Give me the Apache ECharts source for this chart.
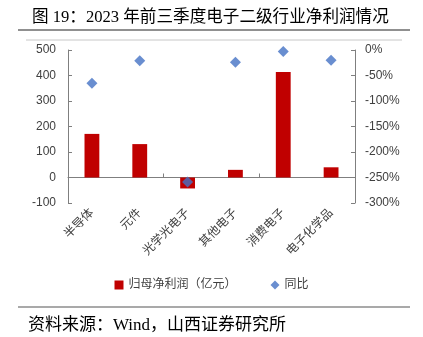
<!DOCTYPE html>
<html><head><meta charset="utf-8">
<script src="https://cdn.jsdelivr.net/npm/echarts@6/dist/echarts.min.js"></script>
<style>html,body{margin:0;padding:0;background:#fff}#c{width:423px;height:337px}</style>
</head><body><div id="c"></div>
<script>
const categories = ['半导体','元件','光学光电子','其他电子','消费电子','电子化学品'];
const profit = [171, 131, -43, 30, 414, 40];
const yoy = [-65, -21, -259, -24, -3, -20];
const leftTicks = {min:-100, max:500, interval:100};
const rightTicks = {min:-300, max:0, interval:50};
const titleText = '图 19：2023 年前三季度电子二级行业净利润情况';
const sourceText = '资料来源：Wind，山西证券研究所';

const chart = echarts.init(document.getElementById('c'), null, {renderer:'canvas'});
const axisCol = '#7f7f7f';
const labCol = '#404040';
const fontF = 'Liberation Sans, Arial, Noto Sans CJK SC, sans-serif';
chart.setOption({
  animation:false,
  title:{text:titleText, left:27, top:4,
    textStyle:{fontFamily:'Liberation Serif, Noto Sans CJK SC, serif', fontSize:16.6, fontWeight:'normal', color:'#000'}},
  graphic:[
    {type:'line', shape:{x1:18,y1:30,x2:410,y2:30}, style:{stroke:'#222', lineWidth:1.2}},
    {type:'line', shape:{x1:26,y1:40,x2:402,y2:40}, style:{stroke:'#c8c8c8', lineWidth:1}},
    {type:'line', shape:{x1:18,y1:307,x2:410,y2:307}, style:{stroke:'#555', lineWidth:1.2}},
    {type:'text', left:28, top:317, style:{text:sourceText, font:'17px Liberation Serif, Noto Sans CJK SC, serif', fill:'#000'}}
  ],
  legend:{bottom:41, left:'center', itemGap:34, itemWidth:9, itemHeight:9,
    textStyle:{fontFamily:fontF, fontSize:12, color:labCol},
    data:[{name:'归母净利润（亿元）', icon:'rect'},{name:'同比', icon:'diamond'}]},
  grid:{left:68, right:68, top:50, bottom:134},
  xAxis:[
    {type:'category', data:categories, position:'bottom',
      axisLine:{show:false, onZero:false}, axisTick:{show:false},
      axisLabel:{rotate:45, interval:0, margin:8, fontFamily:fontF, fontSize:12, color:labCol}},
    {type:'category', data:categories, position:'bottom',
      axisLine:{show:true, onZero:true, lineStyle:{color:axisCol}},
      axisTick:{show:true, inside:true, length:4, lineStyle:{color:axisCol}},
      axisLabel:{show:false}}
  ],
  yAxis:[
    {type:'value', min:leftTicks.min, max:leftTicks.max, interval:leftTicks.interval,
      axisLine:{show:true, lineStyle:{color:axisCol}},
      axisTick:{show:true, inside:true, length:4, lineStyle:{color:axisCol}},
      splitLine:{show:false},
      axisLabel:{margin:12, fontFamily:fontF, fontSize:12, color:labCol}},
    {type:'value', min:rightTicks.min, max:rightTicks.max, interval:rightTicks.interval,
      axisLine:{show:true, lineStyle:{color:axisCol}},
      axisTick:{show:true, inside:true, length:4, lineStyle:{color:axisCol}},
      splitLine:{show:false},
      axisLabel:{margin:10, fontFamily:fontF, fontSize:12, color:labCol, formatter:'{value}%'}}
  ],
  series:[
    {name:'归母净利润（亿元）', type:'bar', xAxisIndex:0, yAxisIndex:0, data:profit,
      barWidth:'31%', itemStyle:{color:'#C00000'}},
    {name:'同比', type:'scatter', xAxisIndex:0, yAxisIndex:1, data:yoy,
      symbol:'diamond', symbolSize:11, itemStyle:{color:'#4472C4'}, z:5}
  ]
});
</script></body></html>
